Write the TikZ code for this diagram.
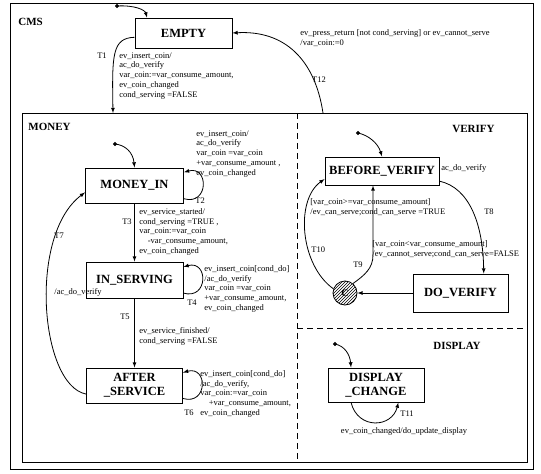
\documentclass[tikz,border=0pt]{standalone}
\usepackage{fontspec}
\setmainfont{Liberation Serif}
\usetikzlibrary{arrows,calc,patterns}
\tikzset{
	statebox/.style={draw, rectangle, align=center, inner sep=1pt, line width=1pt,
			font=\bfseries\fontsize{12.5}{14}\selectfont},
	region/.style={font=\bfseries\fontsize{11}{12}\selectfont, inner sep=0pt, anchor=west},
	trans/.style={font=\fontsize{8.5}{9.8}\selectfont, align=left, inner sep=0pt, anchor=north west},
	tname/.style={font=\fontsize{8.5}{9}\selectfont, inner sep=0pt}
}

\begin{document}
\begin{tikzpicture}[x=1pt, y=-1pt, >=latex, line width=0.8pt]
        \useasboundingbox (0,0) rectangle (541,474);
        % frames
        \draw[line width=1pt] (10,3) rectangle (533,469);
        \draw[line width=1pt] (22,113) rectangle (527,462);
        \draw[dash pattern=on 6pt off 4pt] (297,113) -- (297,462);
        \draw[dash pattern=on 6pt off 4pt] (297,328) -- (527,328);
        \node[region] (cms_lbl) at (18,22) {CMS};
        \node[region] (money_lbl) at (28,127) {MONEY};
        \node[region] (verify_lbl) at (452,129) {VERIFY};
        \node[region] (display_lbl) at (433,346) {DISPLAY};
        % states
        \node[statebox, minimum width=97, minimum height=30] (empty) at (183.5,33) {EMPTY};
        \node[statebox, minimum width=98, minimum height=35] (money_in) at (134.5,185.5) {MONEY\_IN};
        \node[statebox, minimum width=97, minimum height=36] (in_serving) at (134.5,280) {IN\_SERVING};
        \node[statebox, minimum width=96, minimum height=35] (after_service) at (134.5,385.5) {AFTER\\\_SERVICE};
        \node[statebox, minimum width=114, minimum height=28] (before_verify) at (382,171) {BEFORE\_VERIFY};
        \node[statebox, minimum width=95, minimum height=38] (do_verify) at (460.5,293) {DO\_VERIFY};
        \node[statebox, minimum width=96, minimum height=34] (display_change) at (376,385) {DISPLAY\\\_CHANGE};
        \node[circle, draw, minimum size=24, inner sep=0pt, pattern=north east lines,
            font=\bfseries\fontsize{10}{10}\selectfont] (cond) at (345,293) {C};
        % initial states
        \coordinate (init_cms) at (117,6);
        \coordinate (init_money) at (115,144);
        \coordinate (init_verify) at (358,133);
        \coordinate (init_display) at (335,344);
        \filldraw[black] (init_cms) circle (1.5);
        \filldraw[black] (init_money) circle (1.5);
        \filldraw[black] (init_verify) circle (1.5);
        \filldraw[black] (init_display) circle (1.5);
        \draw[->] (init_cms) .. controls (135,5) and (145,10) .. (empty.157);
        \draw[->] (init_money) .. controls (125,145) and (133,152) .. (money_in.north);
        \draw[->] (init_verify) .. controls (368,135) and (378,143) .. (before_verify.north);
        \draw[->] (init_display) .. controls (345,346) and (350,355) .. (display_change.145);
        % T1, T12
        \coordinate (t1_end) at (113,113);
        \coordinate (t12_start) at (323,113);
        \draw[->] (empty.185) .. controls (112,38) and (112,55) .. (t1_end);
        \node[tname] (t1_name) at (102,56) {T1};
        \node[trans] (t1_lbl) at (119,52) {ev\_insert\_coin/\\ac\_do\_verify\\var\_coin:=var\_consume\_amount,\\ev\_coin\_changed\\cond\_serving =FALSE};
        \draw[->] (t12_start) .. controls (315,60) and (285,30) .. (empty.east);
        \node[tname] (t12_name) at (319,80) {T12};
        \node[trans] (t12_lbl) at (300,29) {ev\_press\_return [not cond\_serving] or ev\_cannot\_serve\\/var\_coin:=0};
        % MONEY
        \draw[->] (money_in.-15) .. controls +(25,7) and +(25,-7) .. (money_in.15);
        \node[tname, anchor=west] (t2_name) at (195,201) {T2};
        \node[trans] (t2_lbl) at (196,130) {ev\_insert\_coin/\\ac\_do\_verify\\var\_coin =var\_coin\\+var\_consume\_amount ,\\ev\_coin\_changed};
        \draw[->] (money_in) -- (in_serving);
        \node[tname] (t3_name) at (127,222) {T3};
        \node[trans] (t3_lbl) at (139,208) {ev\_service\_started/\\cond\_serving =TRUE ,\\var\_coin:=var\_coin\\\quad -var\_consume\_amount,\\ev\_coin\_changed};
        \draw[->] (in_serving.-15) .. controls +(25,7) and +(25,-7) .. (in_serving.15);
        \node[tname] (t4_name) at (192,303) {T4};
        \node[trans] (t4_lbl) at (204,265) {ev\_insert\_coin[cond\_do]\\/ac\_do\_verify\\var\_coin =var\_coin\\+var\_consume\_amount,\\ev\_coin\_changed};
        \draw[->] (in_serving) -- (after_service);
        \node[tname] (t5_name) at (125,317) {T5};
        \node[trans] (t5_lbl) at (139,327) {ev\_service\_finished/\\cond\_serving =FALSE};
        \draw[->] (after_service.-15) .. controls +(25,7) and +(25,-7) .. (after_service.15);
        \node[tname] (t6_name) at (189,413) {T6};
        \node[trans] (t6_lbl) at (200,370) {ev\_insert\_coin[cond\_do]\\/ac\_do\_verify,\\var\_coin:=var\_coin\\\quad+var\_consume\_amount,\\ev\_coin\_changed};
        \draw[->] (after_service.190) .. controls (40,385) and (28,235) .. (money_in.188);
        \node[tname, anchor=west] (t7_name) at (54,236) {T7};
        \node[tname, anchor=west] (t7_lbl) at (54,292) {/ac\_do\_verify};
        % VERIFY
        \node[tname, anchor=west] (t8_act) at (441,168) {ac\_do\_verify};
        \draw[->] (before_verify.-10) .. controls (470,188) and (483,225) .. (do_verify.40);
        \node[tname] (t8_name) at (489,212) {T8};
        \draw[->] (do_verify) -- (cond);
        \node[tname] (t9_name) at (358,265) {T9};
        \coordinate (t9_bend) at (373,255);
        \draw[->] (cond.50) .. controls (365,275) and (373,268) .. (t9_bend) -- (t9_bend |- before_verify.south);
        \node[trans] (t9_lbl) at (310,198) {[var\_coin>=var\_consume\_amount]\\/ev\_can\_serve;cond\_can\_serve =TRUE};
        \node[trans] (t10_lbl) at (372,240) {[var\_coin<var\_consume\_amount]\\/ev\_cannot\_serve;cond\_can\_serve=FALSE};
        \draw[->] (cond.160) .. controls (300,265) and (295,200) .. (before_verify.188);
        \node[tname, anchor=west] (t10_name) at (311,250) {T10};
        % DISPLAY
        \draw[->] (display_change.215) .. controls (358,430) and (392,428) .. (display_change.322);
        \node[tname] (t11_name) at (407,414) {T11};
        \node[tname] (t11_lbl) at (404,431) {ev\_coin\_changed/do\_update\_display};
    \end{tikzpicture}
\end{document}
